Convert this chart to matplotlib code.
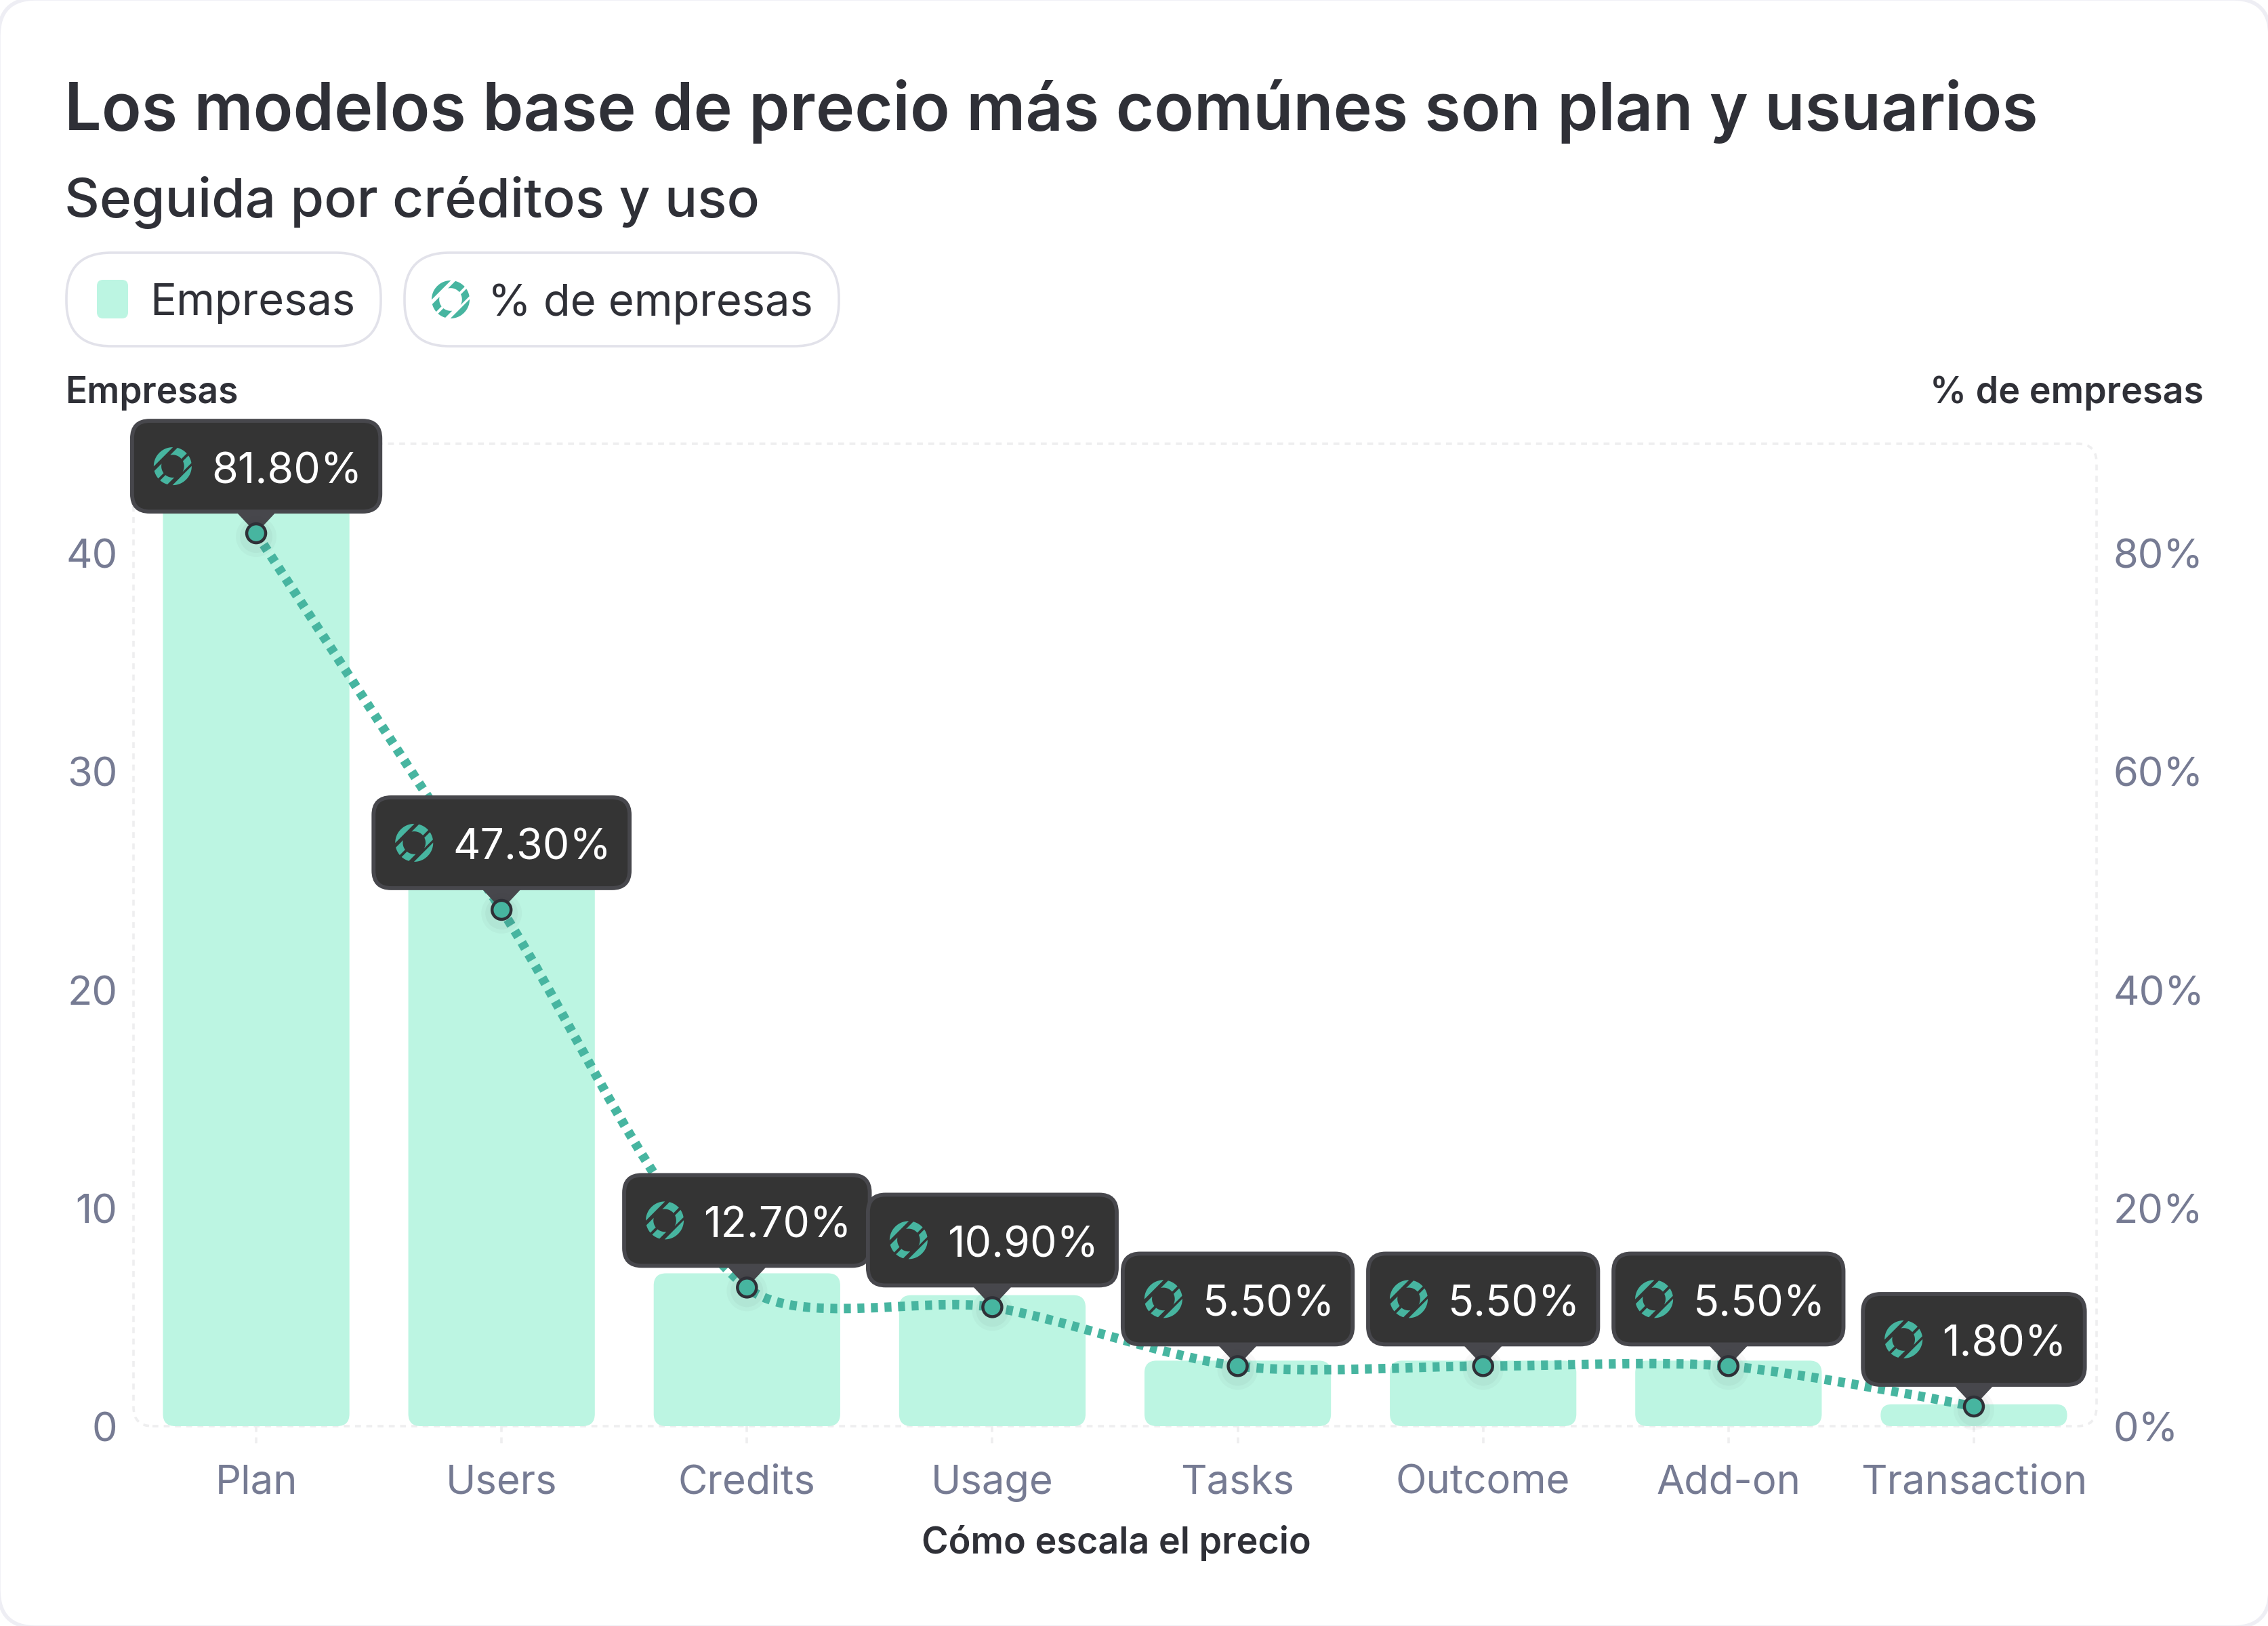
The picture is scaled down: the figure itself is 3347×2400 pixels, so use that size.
import numpy as np
import matplotlib
matplotlib.use('Agg')
import matplotlib.pyplot as plt
from matplotlib.patches import FancyBboxPatch, Polygon, Circle
from matplotlib.path import Path
from matplotlib.patches import PathPatch
from matplotlib.transforms import IdentityTransform, Affine2D

# Data
categories = ['Plan', 'Users', 'Credits', 'Usage', 'Tasks', 'Outcome', 'Add-on', 'Transaction']
empresas = [45, 26, 7, 6, 3, 3, 3, 1]
pct_empresas = [81.8, 47.3, 12.7, 10.9, 5.5, 5.5, 5.5, 1.8]
pct_labels = ['81.80%', '47.30%', '12.70%', '10.90%', '5.50%', '5.50%', '5.50%', '1.80%']
left_ticks = [0, 10, 20, 30, 40]
right_ticks = [0, 20, 40, 60, 80]
right_tick_labels = ['0%', '20%', '40%', '60%', '80%']

TITLE = 'Los modelos base de precio más comúnes son plan y usuarios'
SUBTITLE = 'Seguida por créditos y uso'

# Colors
DARK = '#2f3037'
GREY = '#767b93'
BAR = '#bcf5e2'
TEAL = '#47b5a0'
FRAME = '#eeeeef'
TIP_BG = '#343434'
TIP_EDGE = '#47474c'

W, H = 3348, 2400
DPI = 200
plt.rcParams['font.family'] = ['Inter', 'DejaVu Sans']

fig = plt.figure(figsize=(W / DPI, H / DPI), dpi=DPI, facecolor='white')
display = IdentityTransform()


def py(y):
    # y measured from the top of the image
    return H - y


def ring(x, y, r, zorder):
    # slashed ring icon, cut into bands along the up-right diagonal
    r_in = 0.6
    sq = np.sqrt(2)
    bands = [(-0.51, 0.05, 1), (0.19, 0.58, 1), (-0.51, -0.08, -1), (0.06, 0.48, -1)]
    shapes = []
    for u0, u1, side in bands:
        u = np.linspace(u0, u1, 30)
        outer = side * np.sqrt(1 - u ** 2)
        inner = side * np.sqrt(np.clip(r_in ** 2 - u ** 2, 0, None))
        shapes.append((np.r_[u, u[::-1]], np.r_[outer, inner[::-1]]))
    for u0, u1 in [(-1, -0.7), (0.7, 1)]:
        u = np.linspace(u0, u1, 30)
        outer = np.sqrt(np.clip(1 - u ** 2, 0, None))
        shapes.append((np.r_[u, u[::-1]], np.r_[outer, -outer[::-1]]))
    for u, v in shapes:
        pts = np.c_[x + r * (u + v) / sq, y + r * (v - u) / sq]
        fig.add_artist(Polygon(pts, closed=True, facecolor=TEAL, edgecolor='none',
                               transform=display, zorder=zorder))


def smooth_path(pts, t=0.285):
    # bezier through the pixel points, controls weighted by segment length
    pts = np.asarray(pts, float)
    n = len(pts)
    before = pts.copy()
    after = pts.copy()
    for i in range(1, n - 1):
        d0 = np.hypot(*(pts[i] - pts[i - 1]))
        d1 = np.hypot(*(pts[i + 1] - pts[i]))
        before[i] = pts[i] - t * d0 / (d0 + d1) * (pts[i + 1] - pts[i - 1])
        after[i] = pts[i] + t * d1 / (d0 + d1) * (pts[i + 1] - pts[i - 1])
    verts = [pts[0]]
    codes = [Path.MOVETO]
    for i in range(n - 1):
        verts += [after[i], before[i + 1], pts[i + 1]]
        codes += [Path.CURVE4] * 3
    return Path(verts, codes)


# Card
fig.add_artist(FancyBboxPatch((-2, -2), W + 4, H + 4, boxstyle='round,pad=0,rounding_size=55',
                              facecolor='white', edgecolor='#eeeef4', linewidth=2,
                              transform=display, zorder=-5))

# Title block
fig.text(95 / W, py(192) / H, TITLE, fontsize=34.85, fontweight=600, color=DARK)
fig.text(95 / W, py(320) / H, SUBTITLE, fontsize=28.9, fontweight=500, color=DARK)

# Legend pills
for x0, x1 in [(98, 562), (597, 1238)]:
    fig.add_artist(FancyBboxPatch((x0, py(511)), x1 - x0, 138, boxstyle='round,pad=0,rounding_size=66',
                                  facecolor='white', edgecolor='#e2e2ea', linewidth=1.3,
                                  transform=display, zorder=1))
fig.add_artist(FancyBboxPatch((143, py(470)), 46, 57, boxstyle='round,pad=0,rounding_size=9',
                              facecolor=BAR, edgecolor='none', transform=display, zorder=2))
ring(665, py(442), 28, 2)
fig.text(221 / W, py(442) / H, 'Empresas', fontsize=23.4, color=DARK, va='center_baseline')
fig.text(720 / W, py(442) / H, '% de empresas', fontsize=23.4, color=DARK, va='center_baseline')

# Axes
ax = fig.add_axes([197 / W, py(2105) / H, (3094 - 197) / W, (2105 - 655) / H])
ax2 = ax.twinx()
ax.set_xlim(-0.5, 7.5)
ax.set_ylim(0, 45)
ax2.set_ylim(0, 90)
ax.patch.set_visible(False)
ax2.patch.set_visible(False)
for a in (ax, ax2):
    for s in a.spines.values():
        s.set_visible(False)

ax.set_xticks(range(len(categories)))
ax.set_xticklabels(categories)
ax.set_yticks(left_ticks)
ax2.set_yticks(right_ticks)
ax2.set_yticklabels(right_tick_labels)
ax.tick_params(axis='x', length=0, pad=20.4, labelsize=21.5, labelcolor=GREY)
ax.tick_params(axis='y', length=0, pad=8.5, labelsize=21.5, labelcolor=GREY)
ax2.tick_params(axis='y', length=0, pad=9, labelsize=21.5, labelcolor=GREY)
for lbl in ax.get_yticklabels() + ax2.get_yticklabels():
    lbl.set_va('center_baseline')
    lbl.set_transform(lbl.get_transform() + Affine2D().translate(0, -1))

fig.text(96 / W, py(575) / H, 'Empresas', fontsize=19.2, fontweight=600, color=DARK, va='center_baseline')
fig.text(3252 / W, py(575) / H, '% de empresas', fontsize=19.4, fontweight=600, color=DARK,
         ha='right', va='center_baseline')
fig.text(1647 / W, py(2272) / H, 'Cómo escala el precio', fontsize=19.4, fontweight=600, color=DARK,
         ha='center', va='center_baseline')

# Dashed frame and x ticks
fig.add_artist(FancyBboxPatch((197, py(2105)), 3094 - 197, 2105 - 655,
                              boxstyle='round,pad=0,rounding_size=28', facecolor='none',
                              edgecolor=FRAME, linewidth=1.3, linestyle=(0, (2.4, 2.2)),
                              transform=display, zorder=-1))
for i in range(len(categories)):
    ax.plot([i, i], [0, -0.022], color=FRAME, lw=1.3, ls=(0, (2.4, 2.2)),
            transform=ax.get_xaxis_transform(), clip_on=False, zorder=0)

# Bars, rounded in pixel space so the corners stay circular
fig.canvas.draw()
bars = ax.bar(range(len(categories)), empresas, width=0.76)
for bar in bars:
    bb = bar.get_window_extent()
    bar.set_visible(False)
    r = min(18, bb.height / 2)
    ax.add_patch(FancyBboxPatch((bb.x0, bb.y0), bb.width, bb.height,
                                boxstyle=f'round,pad=0,rounding_size={r}', facecolor=BAR,
                                edgecolor='none', transform=display, clip_on=False, zorder=1))

# Line
line_pts = ax2.transData.transform(np.c_[range(len(categories)), pct_empresas])
ax2.add_patch(PathPatch(smooth_path(line_pts), facecolor='none', edgecolor=TEAL, linewidth=5,
                        linestyle=(0, (0.74, 0.7)), capstyle='butt', transform=display,
                        clip_on=False, zorder=2))

# Tooltips and points
renderer = fig.canvas.get_renderer()
for i, (v, lab) in enumerate(zip(pct_empresas, pct_labels)):
    px, pyy = ax2.transData.transform((i, v))
    txt = fig.text(0, 0, lab, fontsize=22.6, color='white', va='center_baseline', ha='left',
                   zorder=6, transform=display)
    tw = txt.get_window_extent(renderer).width
    box_w = 150 + tw
    x0 = px - box_w / 2
    y0 = pyy + 29
    fig.add_artist(Polygon([(px - 29, y0 + 2), (px + 29, y0 + 2), (px, pyy)], closed=True,
                           facecolor=TIP_EDGE, edgecolor='none', transform=display, zorder=4))
    fig.add_artist(FancyBboxPatch((x0 + 3, y0 + 3), box_w - 6, 134,
                                  boxstyle='round,pad=0,rounding_size=26', facecolor=TIP_BG,
                                  edgecolor=TIP_EDGE, linewidth=2.1, transform=display, zorder=5))
    ring(x0 + 63, y0 + 70, 28, 6)
    txt.set_position((x0 + 120, y0 + 68))
    for rad, alpha in [(30, 0.03), (24, 0.04)]:
        fig.add_artist(Circle((px, pyy - 5), rad, facecolor='#2f3037', alpha=alpha, edgecolor='none',
                              transform=display, zorder=6))
    fig.add_artist(Circle((px, pyy), 14, facecolor=TEAL, edgecolor=DARK, linewidth=1.6,
                          transform=display, zorder=7))

fig.savefig('out.png', dpi=DPI)
